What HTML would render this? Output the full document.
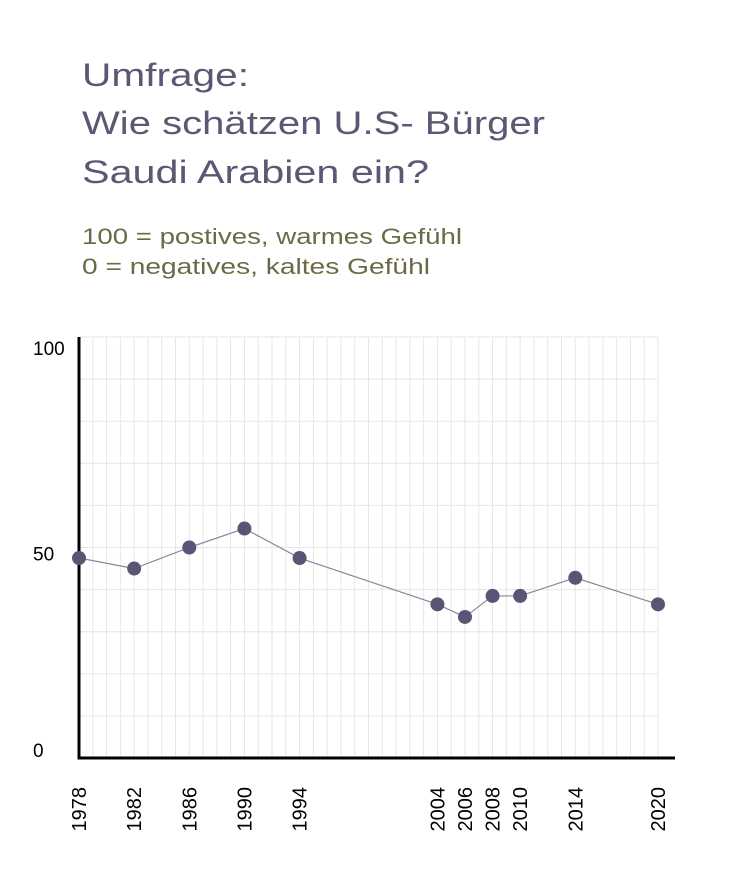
<!DOCTYPE html>
<html><head><meta charset="utf-8"><style>
body{margin:0;background:#fff;}
svg{display:block;font-family:"Liberation Sans",sans-serif;}
</style></head><body>
<svg id="chart" width="750" height="896">
<text x="82" y="86" font-size="32" fill="#5a5873" textLength="167" lengthAdjust="spacingAndGlyphs">Umfrage:</text>
<text x="82" y="134" font-size="32" fill="#5a5873" textLength="463" lengthAdjust="spacingAndGlyphs">Wie schätzen U.S- Bürger</text>
<text x="82" y="183" font-size="32" fill="#5a5873" textLength="347" lengthAdjust="spacingAndGlyphs">Saudi Arabien ein?</text>
<text x="82" y="244" font-size="22" fill="#6b6a45" textLength="380" lengthAdjust="spacingAndGlyphs">100 = postives, warmes Gefühl</text>
<text x="82" y="274" font-size="22" fill="#6b6a45" textLength="348" lengthAdjust="spacingAndGlyphs">0 = negatives, kaltes Gefühl</text>
<g id="grid"></g>
<g id="axes"></g>
<g id="marks"></g>
</svg>
<script>
const years=[1978,1982,1986,1990,1994,2004,2006,2008,2010,2014,2020];
const values=[47.5,45,50,54.5,47.5,36.5,33.5,38.5,38.5,42.8,36.5];
const yTicks=[0,50,100];
const NS="http://www.w3.org/2000/svg";
const x0=79,x1=658,y0=758,y1=337;
const xs=y=>x0+(y-1978)*(x1-x0)/(2020-1978);
const ys=v=>y0-v*(y0-y1)/100;
function mk(tag,attrs,parent){const e=document.createElementNS(NS,tag);for(const k in attrs)e.setAttribute(k,attrs[k]);parent.appendChild(e);return e;}
const grid=document.getElementById('grid'),axes=document.getElementById('axes'),marks=document.getElementById('marks');
for(let yr=1978;yr<=2020;yr++){
  const l=mk('line',{x1:xs(yr),x2:xs(yr),y1:y1,y2:y0,stroke:'#e6e6e6','stroke-width':1},grid);
  
  
}
for(let v=10;v<=100;v+=10){
  const l=mk('line',{x1:x0,x2:x1,y1:ys(v),y2:ys(v),stroke:'#e6e6e6','stroke-width':1},grid);
  
  
}
const ya=mk('line',{x1:x0,x2:x0,y1:y1,y2:y0+1.5,stroke:'#000','stroke-width':3},axes);


const xa=mk('line',{x1:x0-1.5,x2:675,y1:y0,y2:y0,stroke:'#000','stroke-width':3},axes);


yTicks.forEach(v=>{
  const t=mk('text',{x:33,y:ys(v)+(v===100?18:v===0?-1:13),'font-size':19,fill:'#000'},axes);
  t.textContent=v;
  
  
});
years.forEach(yr=>{
  const x=xs(yr)+7;
  const t=mk('text',{x:x,y:787,'font-size':20,fill:'#000','text-anchor':'end',transform:`rotate(-90 ${x} 787)`},axes);
  t.textContent=yr;
  
  
});
const pts=years.map((yr,i)=>xs(yr)+','+ys(values[i])).join(' ');
const pl=mk('polyline',{points:pts,fill:'none',stroke:'#8a879e','stroke-width':1.2},marks);


years.forEach((yr,i)=>{
  const c=mk('circle',{cx:xs(yr),cy:ys(values[i]),r:7,fill:'#5a5575'},marks);
  
  
});
</script>
</body></html>
